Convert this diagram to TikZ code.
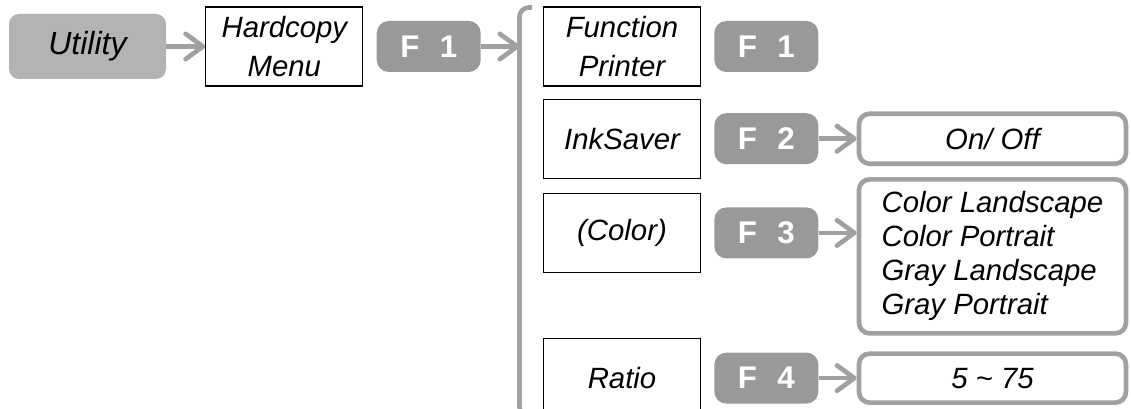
\documentclass[tikz,border=0pt]{standalone}
\usepackage{fontspec}
\setmainfont{Liberation Sans}
\usetikzlibrary{arrows.meta, positioning}

\definecolor{menugray}{HTML}{B3B3B3}
\definecolor{keygray}{HTML}{999999}
\definecolor{linegray}{HTML}{A0A0A0}

\begin{document}
\begin{tikzpicture}[x=0.75pt, y=-0.75pt,
    menu/.style={fill=menugray, rounded corners=7.5pt, minimum width=117.75pt, minimum height=48.75pt, font=\fontsize{24}{28}\selectfont\itshape},
    item/.style={draw, line width=0.9pt, minimum width=117.75pt, minimum height=59.25pt, inner sep=0pt, align=center, font=\fontsize{22}{29}\selectfont\itshape},
    key/.style={fill=keygray, rounded corners=9pt, minimum width=78pt, minimum height=38.25pt, text=white, font=\fontsize{23.5}{27}\selectfont\bfseries},
    choice/.style={draw=linegray, line width=3.5pt, fill=white, rounded corners=8pt, minimum width=200.25pt, align=left, font=\fontsize{22}{25.5}\selectfont\itshape},
    arr/.style={-{Straight Barb[length=13pt, width=19pt, round]}, line width=3.5pt, draw=linegray},
    bar/.style={line width=3.5pt, draw=linegray, rounded corners=7pt},
]
\useasboundingbox (0,0) rectangle (1131,409);
\clip (0,0) rectangle (1131,409);

\node[menu] (util) at (87.5,46.5) {Utility};
\node[item, right=29.25pt of util] (hard) {Hardcopy\\Menu};
\node[key, right=9.75pt of hard] (f1a) {F\hspace{0.65em}1};

% bracket
\coordinate (brx) at (519.5,46.5);
\draw[bar] (532,7.5) -- (519.5,7.5) -- (519.5,416) -- (532,416);

\node[item] (func) at (622,46.5) {Function\\Printer};
\node[item, below=9pt of func] (ink) {InkSaver};
\node[item, below=10.5pt of ink] (color) {(Color)};
\node[item, below=48.75pt of color] (ratio) {Ratio};

\node[key, right=9.75pt of func] (f1b) {F\hspace{0.65em}1};
\node[key, right=9.75pt of ink] (f2) {F\hspace{0.65em}2};
\node[key, right=9.75pt of color] (f3) {F\hspace{0.65em}3};
\node[key, right=9.75pt of ratio] (f4) {F\hspace{0.65em}4};

\node[choice, minimum height=37.5pt, right=28.5pt of f2] (onoff) {On/ Off};
\node[choice, minimum height=115.5pt, below=8.25pt of onoff] (modes) {Color Landscape\\Color Portrait\\Gray Landscape\\Gray Portrait};
\node[choice, minimum height=36.75pt, right=28.5pt of f4] (range) {5 \textasciitilde{} 75};

\draw[arr] (util) -- (hard);
\draw[arr] (f1a) -- (brx);
\draw[arr] (f2) -- (onoff);
\draw[arr] (f3) -- (f3 -| modes.west);
\draw[arr] (f4) -- (range);

\end{tikzpicture}
\end{document}
